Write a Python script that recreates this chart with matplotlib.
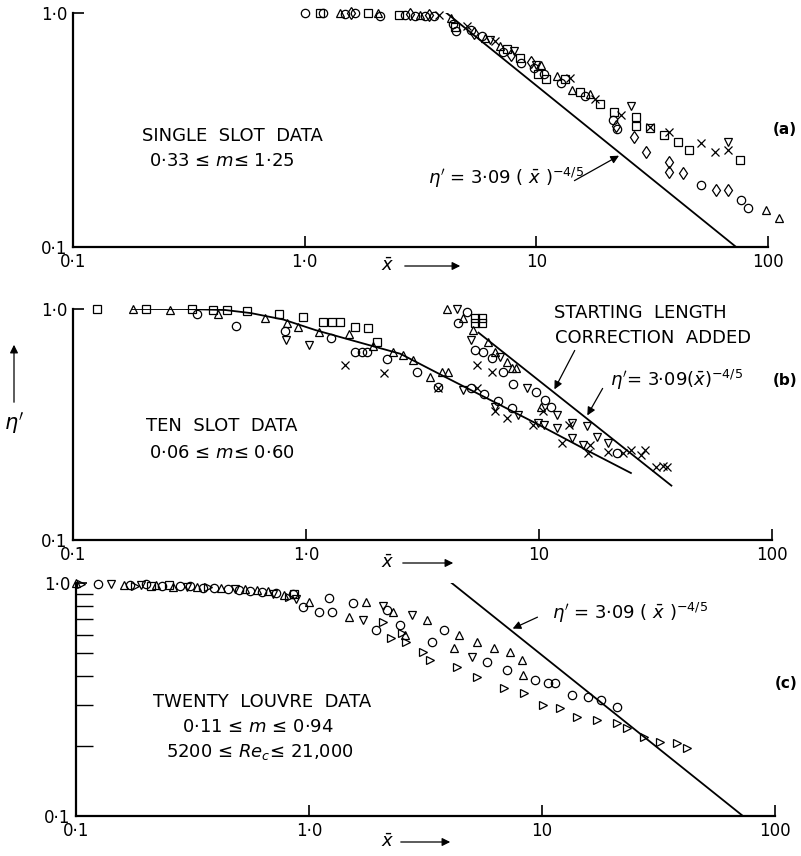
import numpy as np
import matplotlib
matplotlib.use("Agg")
import matplotlib.pyplot as plt

plt.rcParams['font.family'] = ['DejaVu Sans']
plt.rcParams['mathtext.fontset'] = 'dejavusans'

# ---- panel (a): single slot data ----
a_circ_x = [1.0, 1.2, 1.5, 1.65, 2.12, 2.7, 3.0, 3.3, 3.6, 4.35, 4.5, 5.2, 5.8, 7.2, 8.6, 9.8,
            10.8, 12.8, 16.2, 21.5, 22.2, 51.5, 76.5, 82]
a_circ_y = [1.0, 1.0, 0.99, 1.0, 0.97, 0.98, 0.975, 0.97, 0.97, 0.9, 0.84, 0.85, 0.8, 0.68, 0.61, 0.58,
            0.55, 0.5, 0.44, 0.35, 0.32, 0.184, 0.159, 0.147]
a_sq_x = [1.17, 1.88, 2.55, 4.45, 7.5, 8.5, 10.2, 11, 13.3, 15.5, 18.8, 21.6, 26.8, 26.8, 31.1,
          35.4, 41, 45.5, 75.8]
a_sq_y = [1.0, 1.0, 0.985, 0.87, 0.7, 0.64, 0.55, 0.52, 0.52, 0.46, 0.41, 0.377, 0.36, 0.33, 0.323,
          0.3, 0.28, 0.26, 0.235]
a_tri_x = [1.42, 2.08, 3.15, 4.3, 6.0, 7.0, 10.5, 12.3, 14.2, 17, 98, 112]
a_tri_y = [1.0, 1.0, 0.985, 0.95, 0.78, 0.72, 0.6, 0.54, 0.47, 0.45, 0.144, 0.133]
a_tdn_x = [6.3, 8.0, 10.0, 25.5, 67]
a_tdn_y = [0.77, 0.69, 0.6, 0.4, 0.28]
a_dia_x = [1.58, 2.85, 3.45, 5.4, 7.8, 9.5, 22, 26.3, 29.6, 37.2, 37.2, 43, 59.6, 67]
a_dia_y = [1.0, 0.99, 0.98, 0.82, 0.66, 0.62, 0.33, 0.295, 0.255, 0.231, 0.21, 0.207, 0.175, 0.175]
a_x_x = [3.8, 5.0, 6.6, 14, 18, 23.1, 31, 37.2, 51.5, 59, 67]
a_x_y = [0.985, 0.88, 0.76, 0.53, 0.43, 0.367, 0.325, 0.31, 0.278, 0.255, 0.26]
a_line_x = [4.05, 73]

# ---- panel (b): ten slot data ----
b_sq_x = [0.127, 0.206, 0.324, 0.398, 0.46, 0.56, 0.765, 0.97, 1.18, 1.29, 1.40, 1.63, 1.84, 2.02,
          5.3, 5.7, 5.3, 5.7]
b_sq_y = [1.0, 1.0, 1.0, 0.99, 0.99, 0.98, 0.95, 0.923, 0.88, 0.88, 0.88, 0.836, 0.83, 0.72,
          0.91, 0.91, 0.87, 0.87]
b_tri_x = [0.181, 0.26, 0.42, 0.67, 0.83, 0.92, 1.14, 1.53, 1.94, 2.36, 2.61, 2.87, 3.4, 3.85, 4.06,
           4.02, 4.7, 5.2, 6.05, 6.5, 7.3, 7.66, 8.0, 10.2]
b_tri_y = [1.0, 0.99, 0.95, 0.915, 0.87, 0.836, 0.795, 0.78, 0.69, 0.65, 0.632, 0.6, 0.508, 0.534, 0.534,
           1.0, 0.91, 0.81, 0.72, 0.65, 0.59, 0.555, 0.555, 0.377]
b_tdn_x = [0.82, 1.03, 4.7, 6.5, 8.1, 9.9, 10.5, 12.0, 13.8, 15.4, 17.8, 4.45, 5.1, 6.8, 8.9,
           12, 13.9, 16, 19.8]
b_tdn_y = [0.734, 0.70, 0.445, 0.377, 0.348, 0.32, 0.315, 0.305, 0.277, 0.258, 0.279, 1.0, 0.734, 0.62, 0.455,
           0.348, 0.32, 0.31, 0.263]
b_circ_x = [0.34, 0.5, 0.81, 1.28, 1.63, 1.74, 1.83, 2.22, 3.0, 3.7, 5.1, 5.8, 6.7, 7.66,
            4.9, 4.5, 5.3, 5.77, 6.3, 7.0, 7.7, 9.7, 10.6, 11.3, 21.6]
b_circ_y = [0.95, 0.844, 0.8, 0.749, 0.65, 0.65, 0.65, 0.61, 0.534, 0.46, 0.455, 0.43, 0.40, 0.373,
            0.97, 0.87, 0.665, 0.65, 0.614, 0.534, 0.474, 0.437, 0.404, 0.377, 0.238]
b_x_x = [1.47, 2.16, 3.7, 5.44, 6.5, 7.3, 9.4, 12.6, 16.2, 16.6, 5.4, 6.3, 10.4, 13.5, 19.8,
         23, 24.8, 27.3, 28.6, 31.9, 33.9, 35.6]
b_x_y = [0.573, 0.53, 0.455, 0.455, 0.36, 0.338, 0.315, 0.263, 0.238, 0.258, 0.573, 0.534, 0.36, 0.315, 0.24,
         0.238, 0.245, 0.233, 0.245, 0.207, 0.21, 0.207]
b_curve_x = [0.18, 0.3, 0.45, 0.58, 0.8, 1.1, 1.55, 2.1, 2.54, 4.0, 6.0, 10, 16, 24.8]
b_curve_y = [1.0, 1.0, 0.99, 0.96, 0.9, 0.81, 0.735, 0.675, 0.64, 0.505, 0.41, 0.315, 0.245, 0.195]
b_line_x = [5.5, 37]

# ---- panel (c): twenty louvre data ----
c_circ_x = [0.124, 0.17, 0.2, 0.235, 0.28, 0.31, 0.35, 0.39, 0.45, 0.5, 0.56, 0.63, 0.72, 0.85,
            0.94, 1.1, 1.26, 1.22, 1.54, 1.94, 2.16, 2.46, 3.37, 3.8, 5.8, 7.1, 9.3, 10.6, 11.4,
            13.4, 15.7, 18, 20.9]
c_circ_y = [0.99, 0.985, 0.99, 0.975, 0.97, 0.975, 0.95, 0.955, 0.94, 0.93, 0.925, 0.915, 0.91, 0.9,
            0.79, 0.75, 0.75, 0.86, 0.82, 0.63, 0.766, 0.66, 0.558, 0.63, 0.458, 0.423, 0.383, 0.372, 0.372,
            0.33, 0.324, 0.315, 0.294]
c_tri_x = [0.1, 0.16, 0.22, 0.26, 0.33, 0.42, 0.53, 0.6, 0.67, 0.78, 1.0, 1.48, 1.75, 2.3, 2.58,
           3.2, 4.2, 4.4, 5.27, 6.2, 7.3, 8.2, 8.3]
c_tri_y = [1.0, 0.98, 0.98, 0.965, 0.965, 0.955, 0.94, 0.93, 0.92, 0.89, 0.83, 0.715, 0.83, 0.75, 0.6,
           0.694, 0.526, 0.6, 0.558, 0.526, 0.506, 0.467, 0.403]
c_tdn_x = [0.141, 0.19, 0.3, 0.48, 0.7, 0.88, 1.7, 2.07, 2.76, 5.0]
c_tdn_y = [0.99, 0.98, 0.96, 0.945, 0.9, 0.85, 0.694, 0.8, 0.73, 0.48]
c_trr_x = [0.105, 0.18, 0.37, 0.82, 2.07, 2.24, 2.5, 2.6, 3.1, 3.3, 4.3, 5.27, 6.9, 8.4, 10.1,
           11.9, 14.2, 17.2, 21, 23.1, 27.4, 32, 37.8, 41.8]
c_trr_y = [0.99, 0.97, 0.965, 0.87, 0.68, 0.58, 0.61, 0.558, 0.506, 0.467, 0.436, 0.395, 0.355, 0.337, 0.3,
           0.29, 0.266, 0.258, 0.25, 0.238, 0.218, 0.208, 0.206, 0.196]
c_sq_x = [0.21, 0.25, 0.86]
c_sq_y = [0.97, 0.98, 0.9]
c_line_x = [3.95, 73]


def eta_line(x):
    return 3.09 * np.asarray(x, dtype=float) ** (-0.8)


def fp(x, y):
    # pixel position in the 801x856 picture -> figure fraction
    return (x / 801.0, 1.0 - y / 856.0)


def pts(ax, xs, ys, m, ms=6):
    ax.plot(xs, ys, ls='none', marker=m, ms=ms, mfc='none', mec='k', mew=0.9, clip_on=False)


def style(ax, minor_y=False):
    ax.set_xscale('log')
    ax.set_yscale('log')
    ax.set_xlim(0.1, 100)
    ax.set_ylim(0.1, 1.0)
    for s in ('top', 'right'):
        ax.spines[s].set_visible(False)
    for s in ('left', 'bottom'):
        ax.spines[s].set_linewidth(1.6)
    ax.set_xticks([0.1, 1, 10, 100])
    ax.set_xticklabels(['0·1', '1·0', '10', '100'])
    ax.set_yticks([0.1, 1.0])
    ax.set_yticklabels(['0·1', '1·0'])
    ax.tick_params(which='major', direction='in', length=8, width=1.2, labelsize=12, pad=4)
    ax.xaxis.set_minor_locator(matplotlib.ticker.NullLocator())
    if minor_y:
        ax.set_yticks([0.2, 0.3, 0.4, 0.5, 0.6, 0.7, 0.8, 0.9], minor=True)
        ax.yaxis.set_minor_formatter(matplotlib.ticker.NullFormatter())
        ax.tick_params(which='minor', axis='y', direction='in', length=12, width=1.0)
        ax.tick_params(which='minor', axis='x', length=0)
    else:
        ax.yaxis.set_minor_locator(matplotlib.ticker.NullLocator())


fig = plt.figure(figsize=(8.01, 8.56), dpi=100)
ax_a = fig.add_axes([73 / 801, 1 - 247 / 856, 695 / 801, 234 / 856])
ax_b = fig.add_axes([73 / 801, 1 - 540 / 856, 699 / 801, 231 / 856])
ax_c = fig.add_axes([76 / 801, 1 - 816 / 856, 699 / 801, 233 / 856])

eq = r"$\eta^{\prime}$ = 3·09 ( $\bar{x}$ )$^{-4/5}$"
arrow = dict(arrowstyle='-|>', color='k', lw=0.9, mutation_scale=12)

# (a)
style(ax_a)
ax_a.plot(a_line_x, eta_line(a_line_x), color='k', lw=1.3)
pts(ax_a, a_circ_x, a_circ_y, 'o')
pts(ax_a, a_sq_x, a_sq_y, 's', 5.5)
pts(ax_a, a_tri_x, a_tri_y, '^')
pts(ax_a, a_tdn_x, a_tdn_y, 'v')
pts(ax_a, a_dia_x, a_dia_y, 'd', 6.5)
pts(ax_a, a_x_x, a_x_y, 'x', 5.5)
fig.text(*fp(232, 136), 'SINGLE  SLOT  DATA', ha='center', va='center', fontsize=13)
fig.text(*fp(222, 161), r'0·33 ≤ $m$≤ 1·25', ha='center', va='center', fontsize=13)
fig.text(*fp(797, 129), '(a)', ha='right', va='center', fontsize=11, fontweight='bold')
fig.text(*fp(428, 178), eq, ha='left', va='center', fontsize=13)
ax_a.annotate('', xy=(23.3, eta_line(23.3)), xycoords='data',
              xytext=fp(572, 182), textcoords='figure fraction', arrowprops=arrow)
fig.text(*fp(388, 266), r'$\bar{x}$', ha='center', va='center', fontsize=13)
ax_a.annotate('', xy=fp(463, 266), xycoords='figure fraction',
              xytext=fp(402, 266), textcoords='figure fraction', arrowprops=arrow)

# (b)
style(ax_b)
ax_b.plot(b_line_x, eta_line(b_line_x), color='k', lw=1.3)
ax_b.plot(b_curve_x, b_curve_y, color='k', lw=1.3)
pts(ax_b, b_sq_x, b_sq_y, 's', 6)
pts(ax_b, b_tri_x, b_tri_y, '^')
pts(ax_b, b_tdn_x, b_tdn_y, 'v')
pts(ax_b, b_circ_x, b_circ_y, 'o')
pts(ax_b, b_x_x, b_x_y, 'x', 5.5)
fig.text(*fp(222, 426), 'TEN  SLOT  DATA', ha='center', va='center', fontsize=13)
fig.text(*fp(222, 453), r'0·06 ≤ $m$≤ 0·60', ha='center', va='center', fontsize=13)
fig.text(*fp(640, 313), 'STARTING  LENGTH', ha='center', va='center', fontsize=13)
fig.text(*fp(653, 338), 'CORRECTION  ADDED', ha='center', va='center', fontsize=13)
ax_b.annotate('', xy=(11.5, eta_line(11.5)), xycoords='data',
              xytext=fp(576, 348), textcoords='figure fraction', arrowprops=arrow)
fig.text(*fp(610, 380), r"$\eta^{\prime}$= 3·09($\bar{x}$)$^{-4/5}$", ha='left', va='center', fontsize=13)
ax_b.annotate('', xy=(15.9, eta_line(15.9)), xycoords='data',
              xytext=fp(604, 386), textcoords='figure fraction', arrowprops=arrow)
fig.text(*fp(797, 381), '(b)', ha='right', va='center', fontsize=11, fontweight='bold')
fig.text(*fp(388, 563), r'$\bar{x}$', ha='center', va='center', fontsize=13)
ax_b.annotate('', xy=fp(456, 563), xycoords='figure fraction',
              xytext=fp(400, 563), textcoords='figure fraction', arrowprops=arrow)
fig.text(*fp(14, 423), r"$\eta^{\prime}$", ha='center', va='center', fontsize=15)
ax_b.annotate('', xy=fp(14, 342), xycoords='figure fraction',
              xytext=fp(14, 405), textcoords='figure fraction', arrowprops=arrow)

# (c)
style(ax_c, minor_y=True)
ax_c.plot(c_line_x, eta_line(c_line_x), color='k', lw=1.3)
pts(ax_c, c_circ_x, c_circ_y, 'o')
pts(ax_c, c_tri_x, c_tri_y, '^')
pts(ax_c, c_tdn_x, c_tdn_y, 'v')
pts(ax_c, c_trr_x, c_trr_y, '>')
pts(ax_c, c_sq_x, c_sq_y, 's', 5.5)
fig.text(*fp(262, 702), 'TWENTY  LOUVRE  DATA', ha='center', va='center', fontsize=13)
fig.text(*fp(258, 727), r'0·11 ≤ $m$ ≤ 0·94', ha='center', va='center', fontsize=13)
fig.text(*fp(260, 752), r'5200 ≤ $Re_c$≤ 21,000', ha='center', va='center', fontsize=13)
fig.text(*fp(552, 613), eq, ha='left', va='center', fontsize=13)
ax_c.annotate('', xy=(7.3, eta_line(7.3)), xycoords='data',
              xytext=fp(540, 616), textcoords='figure fraction', arrowprops=arrow)
fig.text(*fp(797, 683), '(c)', ha='right', va='center', fontsize=11, fontweight='bold')
fig.text(*fp(388, 842), r'$\bar{x}$', ha='center', va='center', fontsize=13)
ax_c.annotate('', xy=fp(453, 842), xycoords='figure fraction',
              xytext=fp(398, 842), textcoords='figure fraction', arrowprops=arrow)

fig.savefig('out.png', dpi=100)
